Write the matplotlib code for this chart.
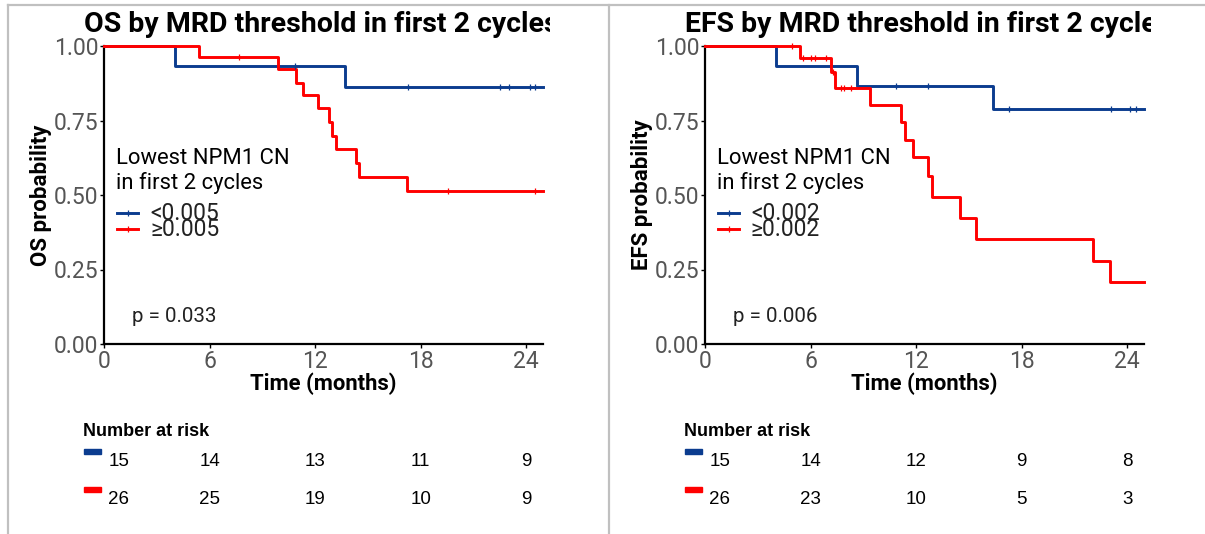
import numpy as np
import matplotlib
matplotlib.use("Agg")
import matplotlib.pyplot as plt
from matplotlib.transforms import Bbox, TransformedBbox, blended_transform_factory
from matplotlib.lines import Line2D

plt.rcParams['font.family'] = ['Roboto', 'DejaVu Sans']

# ---- data ----
os_lo_t = [0, 4.05, 13.67]
os_lo_s = [1.0, 0.933, 0.862]
os_lo_cens = [10.84, 17.25, 22.5, 23.04, 24.2, 24.5]
os_hi_t = [0, 5.4, 9.9, 10.93, 11.3, 12.16, 12.77, 12.97, 13.16, 14.3, 14.47, 17.2]
os_hi_s = [1.0, 0.962, 0.922, 0.877, 0.836, 0.791, 0.746, 0.699, 0.654, 0.606, 0.561, 0.514]
os_hi_cens = [7.7, 19.57, 24.5]

efs_lo_t = [0, 4.03, 8.64, 16.36]
efs_lo_s = [1.0, 0.933, 0.867, 0.789]
efs_lo_cens = [10.84, 12.67, 17.25, 23.07, 24.17, 24.5]
efs_hi_t = [0, 5.42, 7.15, 7.38, 9.4, 11.15, 11.37, 11.8, 12.68, 12.9, 14.47, 15.41, 22.03, 23.0]
efs_hi_s = [1.0, 0.96, 0.912, 0.86, 0.802, 0.746, 0.686, 0.628, 0.563, 0.493, 0.423, 0.352, 0.28, 0.207]
efs_hi_cens = [4.95, 5.56, 6.05, 6.24, 6.87, 7.28, 7.75, 7.89, 8.32]
t_end = 24.95

risk_times = [0, 6, 12, 18, 24]
os_risk_lo = [15, 14, 13, 11, 9]
os_risk_hi = [26, 25, 19, 10, 9]
efs_risk_lo = [15, 14, 12, 9, 8]
efs_risk_hi = [26, 23, 10, 5, 3]

BLUE = '#0B3C8F'
RED = '#FF0000'
W, H = 1205, 534

fig = plt.figure(figsize=(W / 100, H / 100), dpi=100)


def fx(px):
    return px / W


def fy(py):
    return 1 - py / H


def km(ax, t, s, cens, color):
    tt = np.append(t, t_end)
    ss = np.append(s, s[-1])
    ax.step(tt, ss, where='post', color=color, lw=2.1, clip_on=False, zorder=3)
    idx = np.searchsorted(t, cens, side='right') - 1
    ax.plot(cens, np.array(s)[idx], ls='none', marker='|', ms=5, mew=0.9,
            color=color, clip_on=False, zorder=4)


def panel(x0, title, ylab, lo, hi, labels, pval, risk_lo, risk_hi):
    ax = fig.add_axes([fx(x0), fy(344), fx(439), 298 / H])
    km(ax, *lo, BLUE)
    km(ax, *hi, RED)
    ax.set_xlim(0, t_end)
    ax.set_ylim(0, 1)
    ax.set_xticks(risk_times)
    ax.set_yticks([0, 0.25, 0.5, 0.75, 1.0])
    ax.set_yticklabels(['0.00', '0.25', '0.50', '0.75', '1.00'])
    for sp in ['top', 'right']:
        ax.spines[sp].set_visible(False)
    for sp in ['left', 'bottom']:
        ax.spines[sp].set_linewidth(1.6)
        ax.spines[sp].set_color('black')
    ax.tick_params(length=3, width=1.0, labelsize=16.5, labelcolor='#555555', pad=1)
    ax.set_xlabel('Time (months)', fontsize=15.8, fontweight='bold', labelpad=0)
    ax.set_ylabel(ylab, fontsize=16, fontweight='bold', labelpad=1)

    # title, clipped at the panel edge like the reference
    t = fig.text(fx(x0 - 20), fy(25), title, fontsize=20.5, fontweight='bold',
                 va='center', ha='left')
    t.set_clip_box(TransformedBbox(Bbox([[fx(x0 - 30), 0], [fx(x0 + 446), 1]]),
                                   fig.transFigure))
    t.set_clip_on(True)

    # legend drawn by hand
    fig.text(fx(x0 + 12), fy(159), 'Lowest NPM1 CN', fontsize=15.8, va='center')
    fig.text(fx(x0 + 12), fy(183), 'in first 2 cycles', fontsize=15.8, va='center')
    for yy, col, lab in [(213, BLUE, labels[0]), (229, RED, labels[1])]:
        fig.add_artist(Line2D([fx(x0 + 13), fx(x0 + 34)], [fy(yy), fy(yy)], color=col,
                              lw=2.1, transform=fig.transFigure))
        fig.add_artist(Line2D([fx(x0 + 23.5)], [fy(yy)], marker='|', ms=5, mew=0.9,
                              color=col, transform=fig.transFigure))
        fig.text(fx(x0 + 46), fy(yy), lab, fontsize=16.5, va='center', color='#222222')

    fig.text(fx(x0 + 28), fy(316), pval, fontsize=14.8, va='center', color='#222222')

    # number at risk table
    narrow = ['Liberation Sans', 'DejaVu Sans']
    fig.text(fx(x0 - 21), fy(432), 'Number at risk', fontsize=13, fontweight='bold',
             family=narrow, fontstretch='condensed', va='center')
    tr = blended_transform_factory(ax.transData, fig.transFigure)
    for row_y, sq_y, col, vals in [(462, 451, BLUE, risk_lo), (500, 489, RED, risk_hi)]:
        fig.patches.append(plt.Rectangle((fx(x0 - 20), fy(sq_y + 3)), fx(17), 5 / H,
                                         color=col, transform=fig.transFigure))
        for i, (tx, v) in enumerate(zip(risk_times, vals)):
            xx = tx + (0.85 if i == 0 else 0)
            fig.text(xx, fy(row_y), str(v), transform=tr, fontsize=13.5, family=narrow,
                     fontstretch='condensed', ha='center', va='center')
    return ax


panel(104, 'OS by MRD threshold in first 2 cycles', 'OS probability',
      (os_lo_t, os_lo_s, os_lo_cens), (os_hi_t, os_hi_s, os_hi_cens),
      ['<0.005', '\u22650.005'], 'p = 0.033', os_risk_lo, os_risk_hi)
panel(705, 'EFS by MRD threshold in first 2 cycles', 'EFS probability',
      (efs_lo_t, efs_lo_s, efs_lo_cens), (efs_hi_t, efs_hi_s, efs_hi_cens),
      ['<0.002', '\u22650.002'], 'p = 0.006', efs_risk_lo, efs_risk_hi)

# gray frame lines
for xs, ys in [([8, 1205], [5, 5]), ([8, 8], [5, 534]), ([609, 609], [5, 534])]:
    fig.add_artist(Line2D([fx(v) for v in xs], [fy(v) for v in ys], color='#C0C0C0',
                          lw=1.6, transform=fig.transFigure))

fig.savefig('out.png', dpi=100)
